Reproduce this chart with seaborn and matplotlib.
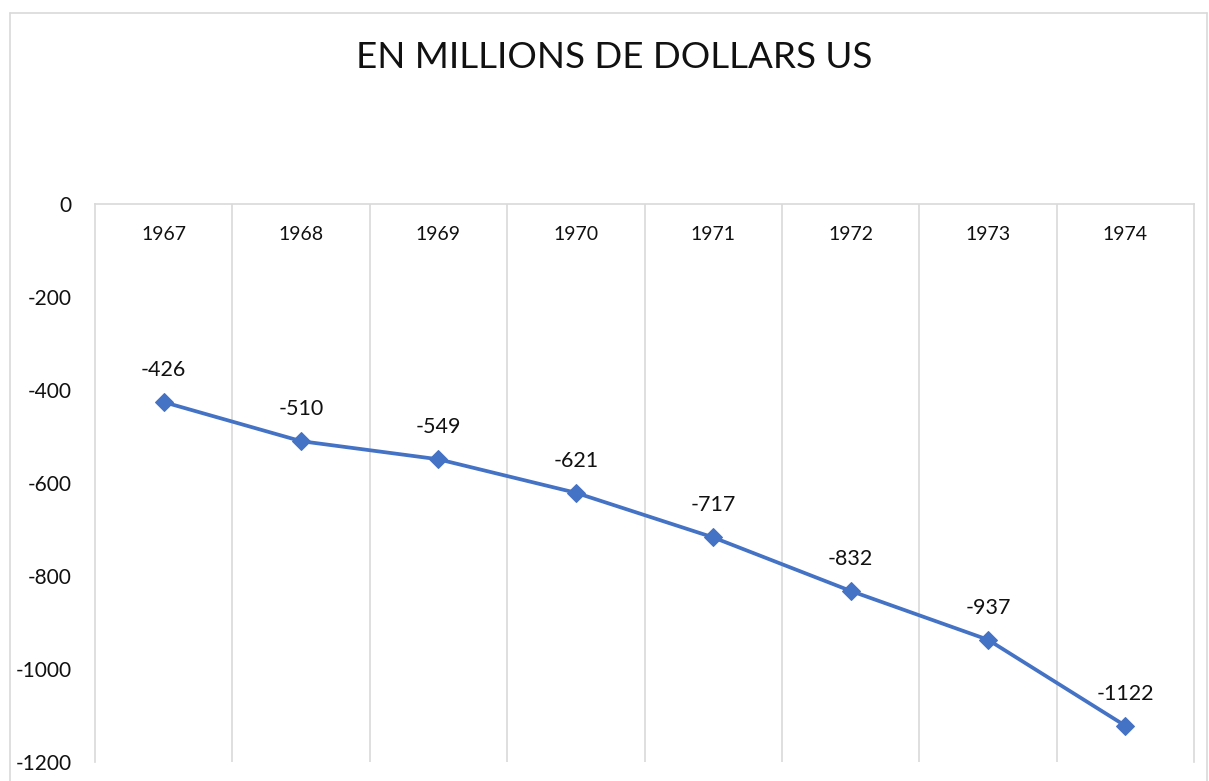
import pandas as pd
import seaborn as sns
import matplotlib.pyplot as plt
from matplotlib.lines import Line2D

# données : solde en millions de dollars US
annees = ['1967', '1968', '1969', '1970', '1971', '1972', '1973', '1974']
solde = [-426, -510, -549, -621, -717, -832, -937, -1122]
graduations_y = [-1200, -1000, -800, -600, -400, -200, 0]

sns.set_theme(style='white')
plt.rcParams['font.family'] = ['Lato', 'DejaVu Sans']
plt.rcParams['axes.unicode_minus'] = False

df = pd.DataFrame({'annee': annees, 'solde': solde})
df['pos'] = range(len(df))

gris = '#D9D9D9'
bleu = '#4472C4'

fig = plt.figure(figsize=(12.09, 7.81), dpi=100)
ax = fig.add_axes([0.0786, 0.0243, 0.9090, 0.7145])

sns.lineplot(data=df, x='pos', y='solde', marker='D', markersize=9,
             color=bleu, linewidth=2.7, markeredgecolor=bleu, ax=ax)

ax.set_xlim(-0.5, len(df) - 0.5)
ax.set_ylim(-1200, 0)
ax.set_yticks(graduations_y)
ax.set_xticks(df['pos'])
ax.set_xticklabels(annees)
ax.xaxis.set_ticks_position('top')
ax.set_xlabel('')
ax.set_ylabel('')
ax.tick_params(axis='x', length=0, pad=-28, labelsize=14, labelcolor='#111111')
ax.tick_params(axis='y', length=0, pad=17, labelsize=15, labelcolor='#111111')

# lignes verticales entre les catégories
ax.set_xticks([p + 0.5 for p in df['pos'][:-1]], minor=True)
ax.grid(False)
ax.grid(which='minor', axis='x', color=gris, linewidth=1.2)
ax.tick_params(which='minor', length=0)

for cote in ['top', 'left', 'right']:
    ax.spines[cote].set_color(gris)
    ax.spines[cote].set_linewidth(1.2)
ax.spines['bottom'].set_visible(False)

# étiquettes de données
for p, v in zip(df['pos'], df['solde']):
    ax.annotate(str(v), (p, v), xytext=(0, 23), textcoords='offset points',
                ha='center', va='center', fontsize=15.5, color='#111111')

fig.text(0.508, 0.927, 'EN MILLIONS DE DOLLARS US', ha='center', va='center',
         fontsize=26.5, color='#111111')

# cadre du graphique
x0, x1, y1 = 10 / 1209, 1207 / 1209, 1 - 13 / 781
for xs, ys in [([x0, x0], [0, y1]), ([x0, x1], [y1, y1]), ([x1, x1], [y1, 0])]:
    fig.add_artist(Line2D(xs, ys, color=gris, linewidth=1.2, transform=fig.transFigure))

fig.savefig('out.png', dpi=100)
